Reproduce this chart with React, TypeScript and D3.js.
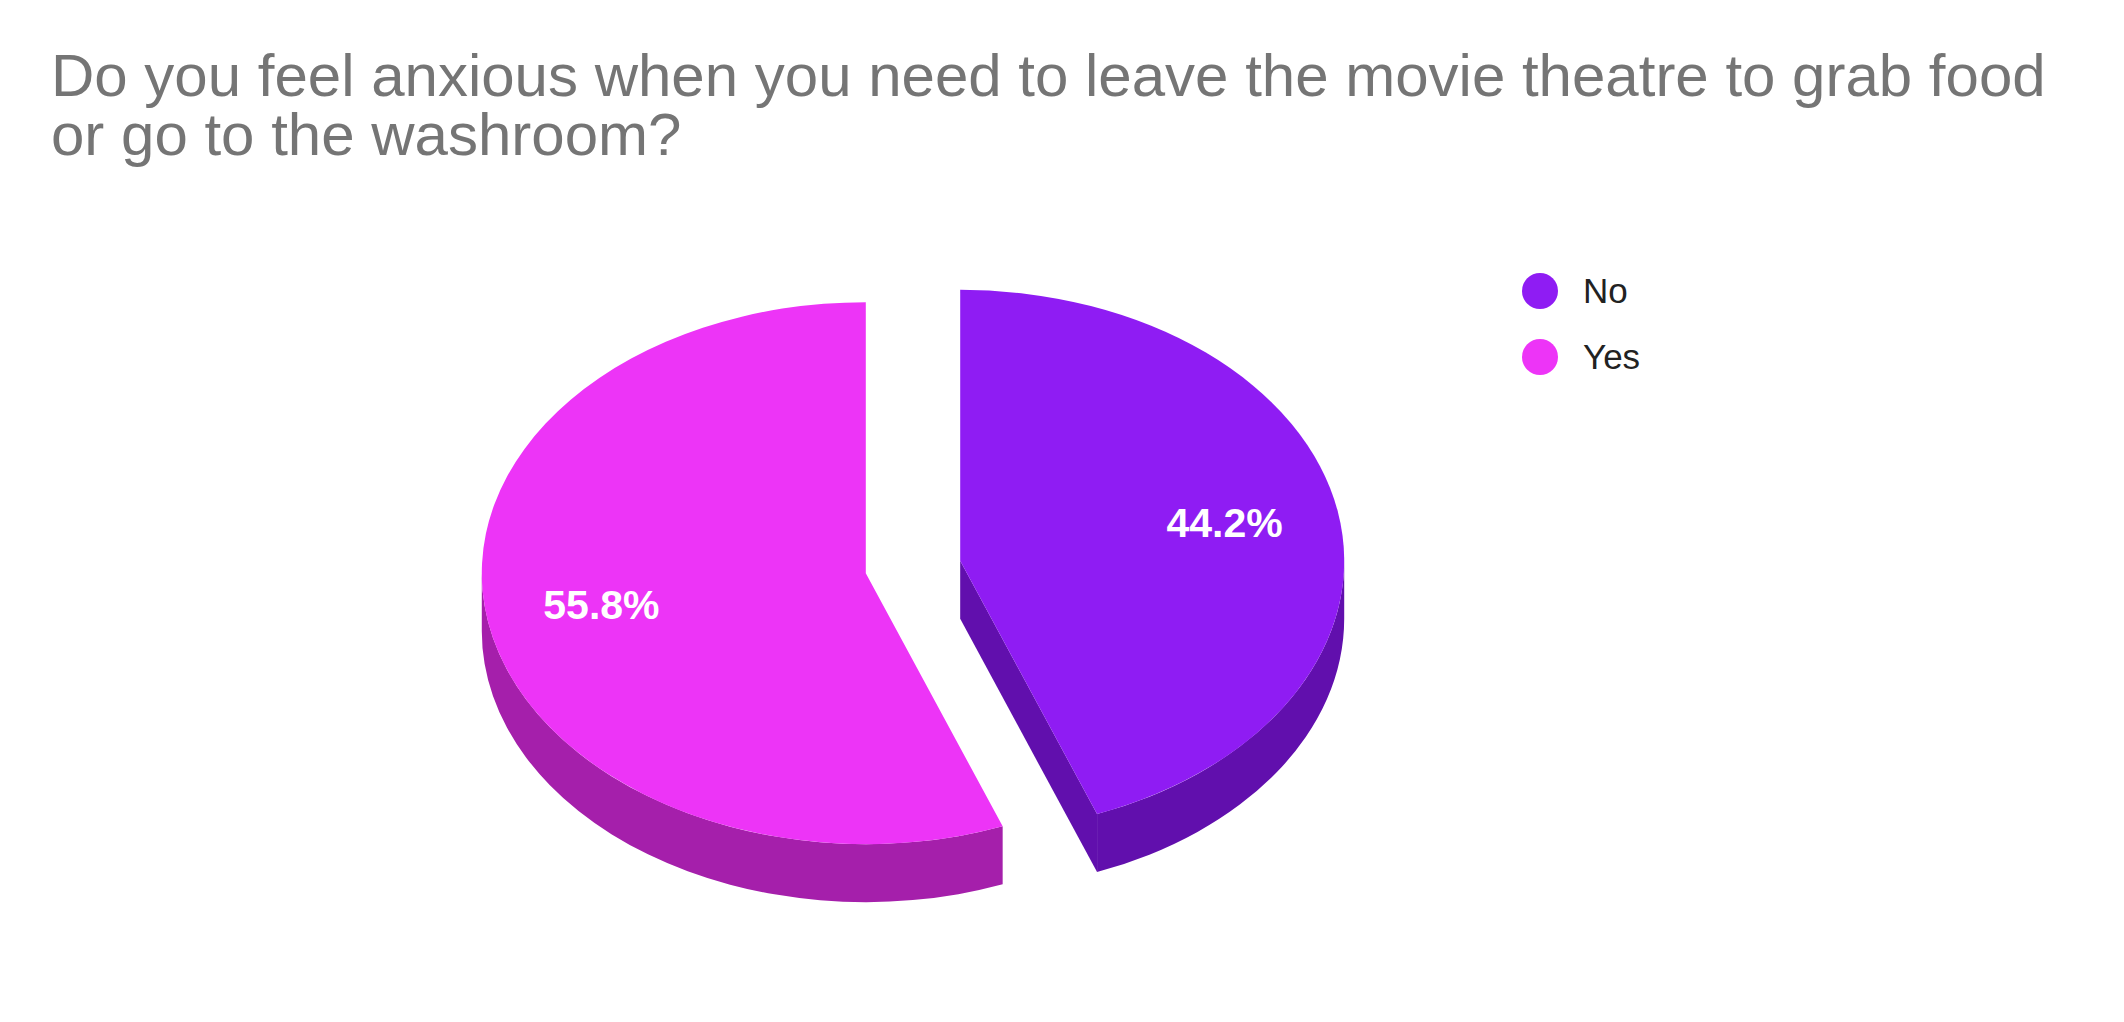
import * as d3 from "d3";
import React, { useEffect, useRef } from "react";

const categories = ["No", "Yes"];
const values = [44.2, 55.8];
const topColors = ["#8f1cf3", "#ed34f7"];
const sideColors = ["#610fad", "#a51fab"];
const titleLines = [
  "Do you feel anxious when you need to leave the movie theatre to grab food",
  "or go to the washroom?",
];

const width = 2124;
const height = 1022;

export default function App() {
  const svgRef = useRef<SVGSVGElement>(null);

  useEffect(() => {
    if (!svgRef.current) return;
    const svg = d3.select(svgRef.current);
    svg.selectAll("*").remove();

    // pie geometry (ellipse top face + extruded wall)
    const cx = 913;
    const cy = 567;
    const rx = 384;
    const ry = 271;
    const depth = 58;
    const offset = 0.125; // slice explode, fraction of radius

    const pie = d3
      .pie<number>()
      .sort(null)
      .value((d) => d)
      .startAngle(0)
      .endAngle(2 * Math.PI);
    const arcs = pie(values);
    const total = d3.sum(values);
    const fmt = d3.format(".1%");

    // angle measured clockwise from 12 o'clock
    const pt = (ox: number, oy: number, a: number, k = 1): [number, number] => [
      ox + k * rx * Math.sin(a),
      oy - k * ry * Math.cos(a),
    ];

    const g = svg.append("g");

    arcs.forEach((a, i) => {
      const mid = (a.startAngle + a.endAngle) / 2;
      const [ox, oy] = pt(cx, cy, mid, offset);
      const p0 = pt(ox, oy, a.startAngle);
      const p1 = pt(ox, oy, a.endAngle);
      const large = a.endAngle - a.startAngle > Math.PI ? 1 : 0;

      // radial wall at the end edge, visible when it points down-right
      if (Math.sin(a.endAngle) > 0 && Math.cos(a.endAngle) < 0) {
        g.append("path")
          .attr(
            "d",
            `M${ox},${oy}L${p1[0]},${p1[1]}L${p1[0]},${p1[1] + depth}L${ox},${oy + depth}Z`
          )
          .attr("fill", sideColors[i]);
      }

      // outer wall, front half only
      const b0 = Math.max(a.startAngle, Math.PI / 2);
      const b1 = Math.min(a.endAngle, (3 * Math.PI) / 2);
      if (b1 > b0) {
        const q0 = pt(ox, oy, b0);
        const q1 = pt(ox, oy, b1);
        g.append("path")
          .attr(
            "d",
            `M${q0[0]},${q0[1]}A${rx},${ry} 0 0 1 ${q1[0]},${q1[1]}` +
              `L${q1[0]},${q1[1] + depth}A${rx},${ry} 0 0 0 ${q0[0]},${q0[1] + depth}Z`
          )
          .attr("fill", sideColors[i]);
      }

      // top face
      g.append("path")
        .attr(
          "d",
          `M${ox},${oy}L${p0[0]},${p0[1]}A${rx},${ry} 0 ${large} 1 ${p1[0]},${p1[1]}Z`
        )
        .attr("fill", topColors[i]);

      const [lx, ly] = pt(ox, oy, mid, 0.7);
      g.append("text")
        .attr("x", lx)
        .attr("y", ly + 11)
        .attr("text-anchor", "middle")
        .attr("font-family", "Liberation Sans, Arial, sans-serif")
        .attr("font-weight", "bold")
        .attr("font-size", 41)
        .attr("fill", "#ffffff")
        .text(fmt(a.data / total));
    });

    // title
    const title = svg
      .append("text")
      .attr("font-family", "Liberation Sans, Arial, sans-serif")
      .attr("font-size", 60)
      .attr("fill", "#757575");
    titleLines.forEach((t, i) => {
      title
        .append("tspan")
        .attr("x", 51)
        .attr("y", 96 + i * 59)
        .text(t);
    });

    // legend
    const legend = svg
      .append("g")
      .selectAll("g")
      .data(categories)
      .join("g")
      .attr("transform", (_, i) => `translate(1540,${291 + i * 66})`);
    legend
      .append("circle")
      .attr("r", 18)
      .attr("fill", (_, i) => topColors[i]);
    legend
      .append("text")
      .attr("x", 43)
      .attr("y", 12)
      .attr("font-family", "Liberation Sans, Arial, sans-serif")
      .attr("font-size", 35)
      .attr("fill", "#222222")
      .text((d) => d);
  }, []);

  return (
    <svg
      ref={svgRef}
      width={width}
      height={height}
      style={{ position: "absolute", left: 0, top: 0, display: "block", background: "#fff" }}
    />
  );
}
